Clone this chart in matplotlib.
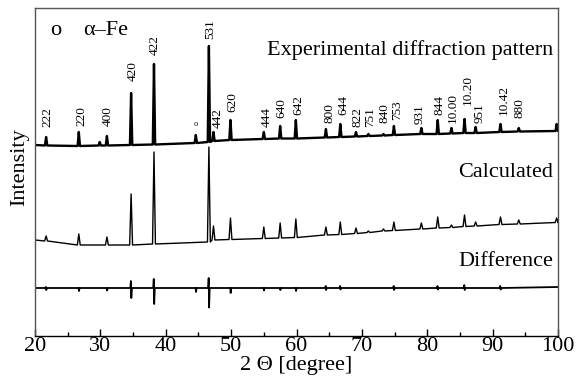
import matplotlib
matplotlib.use("Agg")
import matplotlib.pyplot as plt
from matplotlib.ticker import MultipleLocator

plt.rcParams['font.family'] = ['Liberation Serif', 'DejaVu Serif']
plt.rcParams['mathtext.fontset'] = 'stix'

# ---------------- data (intensity in arbitrary, offset units) ----------------
hkl_labels = ['222', '220', '400', '420', '422', '531', '442', '620', '444', '640',
              '642', '800', '644', '822', '751', '840', '753', '931', '844', '10.00',
              '10.20', '951', '10.42', '880']
peak_pos = [21.7, 26.7, 31.0, 34.7, 38.2, 46.6, 47.3, 49.9, 55.0, 57.5,
            59.9, 64.5, 66.7, 69.1, 71.0, 73.3, 74.9, 79.1, 81.6, 83.7,
            85.7, 87.4, 91.2, 94.0]
label_x = [21.9, 27.1, 31.2, 35.0, 38.35, 46.75, 48.0, 50.2, 55.4, 57.7,
           60.3, 65.0, 67.1, 69.3, 71.3, 73.4, 75.4, 78.9, 81.9, 83.9,
           86.25, 88.0, 91.7, 94.05]
label_base = [209, 210, 210, 255, 281, 297, 208, 224, 209, 218,
              221, 213, 221, 209, 209, 213, 216, 212, 221, 213,
              231, 213, 221, 218]

# experimental pattern
exp_top = [199, 204, 200, 243, 272, 290, 204, 216, 204, 210,
           216, 207, 212, 204, 202, 202, 210, 208, 216, 208,
           217, 209, 212, 208]
exp_foot = [190.5, 190, 190.5, 191, 191.5, 194, 195, 196, 197, 197.5,
            197.5, 198.5, 199, 199.5, 200, 200.5, 201, 202, 202, 202.5,
            203, 203, 204, 204.5]
exp_extra_pos = [29.9, 44.6, 99.8]          # alpha-Fe and small unlabelled peaks
exp_extra_top = [194, 201, 212]
exp_extra_foot = [190.5, 193, 205]
exp_ends = [191, 205]

# calculated pattern
calc_top = [100, 102, 99, 142, 184, 189, 110, 118, 109, 113,
            117, 109, 114, 108, 105, 107, 114, 113, 119, 111,
            121, 114, 119, 116]
calc_foot = [95, 91, 91, 91, 92, 94, 96, 96.5, 97.5, 98, 98.5, 101, 101.5,
             102.5, 103.5, 105, 105.5, 107, 108, 108.5, 109.5, 110, 111.5, 112]
calc_extra_pos = [99.8]
calc_extra_top = [118]
calc_extra_foot = [113.5]
calc_ends = [96, 113.5]

# difference curve (up / down excursions at the peak positions)
diff_pos = [21.7, 26.7, 31.0, 34.7, 38.2, 44.6, 46.6, 49.9, 55.0, 57.5,
            59.9, 64.5, 66.7, 74.9, 81.6, 85.7, 91.2]
diff_up = [49, 48, 48, 55, 57, 48, 58, 48, 48, 48, 48, 50, 50, 50, 50, 51, 50]
diff_down = [46, 45, 45.5, 38, 32, 44, 28.5, 43, 45.5, 46, 45, 46, 46.5, 46, 46.5, 46, 46.5]
diff_base = 48
diff_ends = [48, 49]

x_ticks = [20, 30, 40, 50, 60, 70, 80, 90, 100]


# ---------------- build poly-lines from the read peak values ----------------
def trace(pos, top, foot, ends, w=0.18):
    items = sorted(zip(pos, top, foot))
    xs, ys = [20.0], [ends[0]]
    for p, t, f in items:
        xs += [p - w, p, p + w]
        ys += [f, t, f]
    xs.append(100.0)
    ys.append(ends[1])
    return xs, ys


def diff_trace(pos, up, down, base, ends, w=0.12):
    xs, ys = [20.0], [ends[0]]
    for p, u, d in sorted(zip(pos, up, down)):
        xs += [p - w, p - 0.03, p + 0.03, p + w]
        ys += [base, u, d, base]
    xs.append(100.0)
    ys.append(ends[1])
    return xs, ys


ex, ey = trace(peak_pos + exp_extra_pos, exp_top + exp_extra_top,
               exp_foot + exp_extra_foot, exp_ends)
cx, cy = trace(peak_pos + calc_extra_pos, calc_top + calc_extra_top,
               calc_foot + calc_extra_foot, calc_ends, w=0.22)
dx, dy = diff_trace(diff_pos, diff_up, diff_down, diff_base, diff_ends)

# ---------------- figure ----------------
W, H = 577, 385
fig = plt.figure(figsize=(W / 100, H / 100), dpi=100)
ax = fig.add_axes([35 / W, (H - 336) / H, 523 / W, 328 / H])

ax.plot(ex, ey, color='black', lw=1.7)
ax.plot(cx, cy, color='black', lw=1.0)
ax.plot(dx, dy, color='black', lw=1.3)

for lab, lx, lb in zip(hkl_labels, label_x, label_base):
    ax.text(lx, lb, lab, rotation=90, ha='center', va='bottom', fontsize=9.5)
ax.text(44.6, 208, 'o', ha='center', va='bottom', fontsize=6)

ax.set_xlim(20, 100)
ax.set_ylim(0, 328)
ax.set_xticks(x_ticks)
ax.xaxis.set_minor_locator(MultipleLocator(5))
ax.set_yticks([])
ax.tick_params(axis='x', which='major', direction='in', length=5, width=1,
               labelsize=16, pad=1)
ax.tick_params(axis='x', which='minor', direction='in', length=3, width=1)
for s in ['top', 'left', 'right']:
    ax.spines[s].set_color('#555555')
    ax.spines[s].set_linewidth(1.0)
ax.spines['bottom'].set_color('black')
ax.spines['bottom'].set_linewidth(1.0)

ax.set_xlabel('2 Θ [degree]', fontsize=16, labelpad=0)
fig.text(20 / W, (H - 167) / H, 'Intensity', rotation=90, ha='center',
         va='center', fontsize=16)

ax.text(0.990, 0.872, 'Experimental diffraction pattern', transform=ax.transAxes,
        ha='right', va='center', fontsize=16)
ax.text(0.990, 0.497, 'Calculated', transform=ax.transAxes,
        ha='right', va='center', fontsize=16)
ax.text(0.990, 0.226, 'Difference', transform=ax.transAxes,
        ha='right', va='center', fontsize=16)
ax.text(0.029, 0.93, 'o', transform=ax.transAxes, ha='left', va='center', fontsize=16)
ax.text(0.092, 0.93, 'α–Fe', transform=ax.transAxes, ha='left', va='center', fontsize=16)

fig.savefig('out.png', dpi=100)
